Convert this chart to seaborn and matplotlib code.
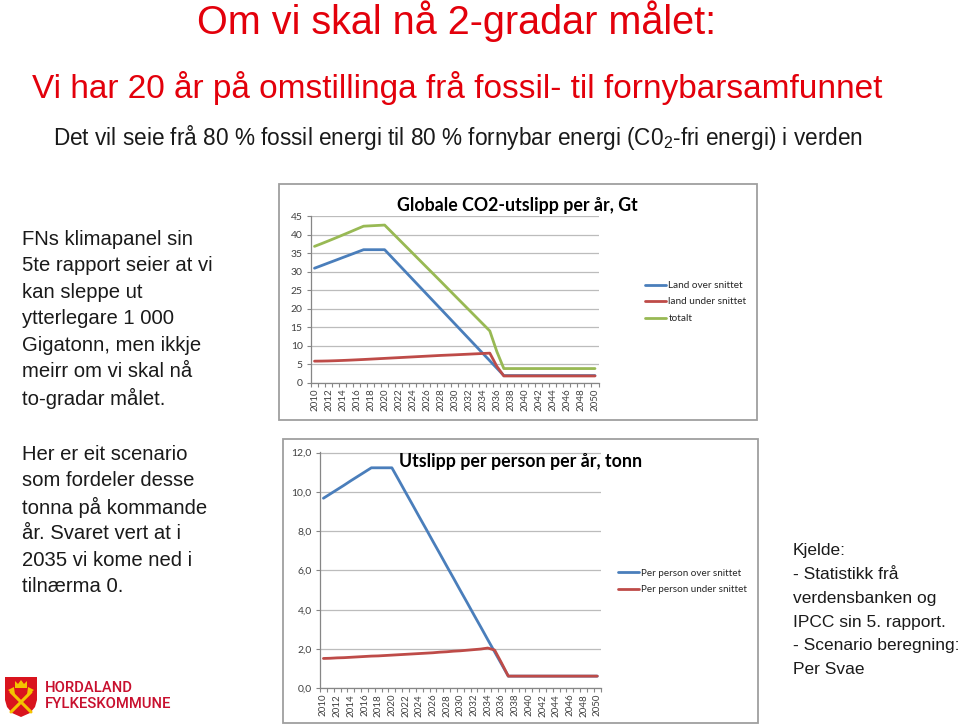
import numpy as np
import pandas as pd
import matplotlib
matplotlib.use("Agg")
import matplotlib.pyplot as plt
import seaborn as sns
from matplotlib.patches import Rectangle, Polygon
from matplotlib.ticker import FuncFormatter

# ---------------- data ----------------
years = list(range(2010, 2051))

co2_land_over = [31.0, 31.71, 32.43, 33.14, 33.86, 34.57, 35.29, 36.0, 36.0, 36.0, 36.0,
                 34.0, 32.0, 30.0, 28.0, 26.0, 24.0, 22.0, 20.0, 18.0, 16.0,
                 14.0, 12.0, 10.0, 8.0, 6.0, 4.0,
                 2.0, 2.0, 2.0, 2.0, 2.0, 2.0, 2.0, 2.0, 2.0, 2.0, 2.0, 2.0, 2.0, 2.0]
co2_land_under = [5.9, 5.92, 5.96, 6.02, 6.09, 6.17, 6.26, 6.35, 6.45, 6.55, 6.65, 6.75, 6.85,
                  6.95, 7.05, 7.15, 7.25, 7.35, 7.45, 7.53, 7.61, 7.7, 7.79, 7.88, 7.97, 8.06,
                  4.5,
                  1.9, 1.9, 1.9, 1.9, 1.9, 1.9, 1.9, 1.9, 1.9, 1.9, 1.9, 1.9, 1.9, 1.9]
co2_totalt = [36.9, 37.63, 38.39, 39.16, 39.95, 40.74, 41.55, 42.35, 42.45, 42.55, 42.65,
              40.75, 38.85, 36.95, 35.05, 33.15, 31.25, 29.35, 27.45, 25.53, 23.61,
              21.7, 19.79, 17.88, 15.97, 14.06, 8.5,
              3.9, 3.9, 3.9, 3.9, 3.9, 3.9, 3.9, 3.9, 3.9, 3.9, 3.9, 3.9, 3.9, 3.9]

pp_over = [9.68, 9.9, 10.12, 10.34, 10.57, 10.79, 11.01, 11.23, 11.23, 11.23, 11.23,
           10.61, 9.98, 9.36, 8.73, 8.11, 7.48, 6.86, 6.23, 5.61, 4.98,
           4.36, 3.73, 3.11, 2.48, 1.86, 1.24,
           0.62, 0.62, 0.62, 0.62, 0.62, 0.62, 0.62, 0.62, 0.62, 0.62, 0.62, 0.62, 0.62, 0.62]
pp_under = [1.52, 1.53, 1.55, 1.56, 1.58, 1.6, 1.62, 1.64, 1.65, 1.67, 1.69, 1.71, 1.73,
            1.75, 1.77, 1.79, 1.81, 1.84, 1.86, 1.89, 1.91, 1.94, 1.97, 2.0, 2.05,
            1.95, 1.3,
            0.62, 0.62, 0.62, 0.62, 0.62, 0.62, 0.62, 0.62, 0.62, 0.62, 0.62, 0.62, 0.62, 0.62]

top_labels = ["Land over snittet", "land under snittet", "totalt"]
bottom_labels = ["Per person over snittet", "Per person under snittet"]
top_title = "Globale CO2-utslipp per år, Gt"
bottom_title = "Utslipp per person per år, tonn"

df_top = pd.DataFrame({
    "år": years * 3,
    "verdi": co2_land_over + co2_land_under + co2_totalt,
    "serie": [top_labels[0]] * 41 + [top_labels[1]] * 41 + [top_labels[2]] * 41,
})
df_bot = pd.DataFrame({
    "år": years * 2,
    "verdi": pp_over + pp_under,
    "serie": [bottom_labels[0]] * 41 + [bottom_labels[1]] * 41,
})

BLUE, RED, GREEN = "#4a7ebb", "#be4b48", "#98b954"

# ---------------- figure ----------------
sns.set_theme(style="white")
plt.rcParams["font.family"] = ["Liberation Sans", "DejaVu Sans"]
plt.rcParams["mathtext.fontset"] = "custom"
plt.rcParams["mathtext.rm"] = "Liberation Sans"

W, H = 959, 725
fig = plt.figure(figsize=(W / 100, H / 100), dpi=100)
fig.patch.set_facecolor("white")

CHART_FONT = ["Lato", "DejaVu Sans"]
TICK_COL = "#404040"
AX_COL = "#868686"


def px_axes(x0, x1, y_top, y_bot):
    return fig.add_axes([x0 / W, 1 - y_bot / H, (x1 - x0) / W, (y_bot - y_top) / H])


def style(ax, ymax, ystep, fmt):
    ax.set_xlim(2009.5, 2050.5)
    ax.set_ylim(0, ymax)
    ax.set_yticks(np.arange(0, ymax + 0.001, ystep))
    ax.yaxis.set_major_formatter(FuncFormatter(fmt))
    ax.set_xticks(years[::2])
    ax.set_xticks(np.arange(2009.5, 2051, 1.0), minor=True)
    ax.tick_params(axis="x", which="major", length=0, labelrotation=90,
                   labelsize=7, pad=4, labelcolor=TICK_COL)
    ax.tick_params(axis="x", which="minor", length=3, width=0.8, color=AX_COL,
                   direction="out", bottom=True)
    ax.tick_params(axis="y", which="major", length=3, width=0.8, color=AX_COL,
                   direction="out", left=True, labelsize=7.5, pad=3, labelcolor=TICK_COL)
    for lab in ax.get_xticklabels() + ax.get_yticklabels():
        lab.set_family(CHART_FONT)
    ax.grid(axis="y", color="#bcbcbc", lw=0.9)
    ax.grid(axis="x", visible=False)
    ax.set_axisbelow(True)
    for s in ["top", "right"]:
        ax.spines[s].set_visible(False)
    for s in ["left", "bottom"]:
        ax.spines[s].set_color(AX_COL)
        ax.spines[s].set_linewidth(0.9)
    ax.set_xlabel("")
    ax.set_ylabel("")


# top chart
ax1 = px_axes(311, 598.5, 216, 383)
sns.lineplot(data=df_top, x="år", y="verdi", hue="serie", hue_order=top_labels,
             palette=[BLUE, RED, GREEN], linewidth=2.0, ax=ax1, legend=True)
style(ax1, 45, 5, lambda v, p: f"{v:.0f}")
ax1.set_ylim(0, 45.1)
h, l = ax1.get_legend_handles_labels()
ax1.legend(h, l, loc="center left", bbox_to_anchor=(645 / W, 1 - 302 / H),
           bbox_transform=fig.transFigure, frameon=False, borderpad=0,
           borderaxespad=0, handlelength=2.1, handletextpad=0.25, labelspacing=0.75,
           prop={"family": CHART_FONT, "size": 7.2})

# bottom chart
ax2 = px_axes(320, 600.7, 451.7, 688.3)
sns.lineplot(data=df_bot, x="år", y="verdi", hue="serie", hue_order=bottom_labels,
             palette=[BLUE, RED], linewidth=2.0, ax=ax2, legend=True)
style(ax2, 12, 2, lambda v, p: f"{v:.1f}".replace(".", ","))
ax2.set_ylim(0, 12.05)
h, l = ax2.get_legend_handles_labels()
ax2.legend(h, l, loc="center left", bbox_to_anchor=(618 / W, 1 - 581.5 / H),
           bbox_transform=fig.transFigure, frameon=False, borderpad=0,
           borderaxespad=0, handlelength=2.1, handletextpad=0.25, labelspacing=0.75,
           prop={"family": CHART_FONT, "size": 7.1})

# overlay in pixel coordinates for slide text & decoration
ov = fig.add_axes([0, 0, 1, 1], zorder=10)
ov.set_xlim(0, W)
ov.set_ylim(H, 0)
ov.axis("off")

# chart frames
ov.add_patch(Rectangle((279, 184), 478, 236, fill=False, ec="#9f9f9f", lw=1.3))
ov.add_patch(Rectangle((283, 439), 475, 284, fill=False, ec="#9f9f9f", lw=1.3))

# chart titles
ov.text(517, 205, top_title, ha="center", va="center", fontsize=12.8,
        fontweight="bold", family=CHART_FONT, color="black")
ov.text(521, 461, bottom_title, ha="center", va="center", fontsize=12.8,
        fontweight="bold", family=CHART_FONT, color="black")

SLIDE_RED = "#e3000b"
ov.text(457, 21, "Om vi skal nå 2-gradar målet:", ha="center", va="center",
        fontsize=28.5, color=SLIDE_RED)
ov.text(457, 88, "Vi har 20 år på omstillinga frå fossil- til fornybarsamfunnet",
        ha="center", va="center", fontsize=24, color=SLIDE_RED)
ov.text(458, 137,
        r"Det vil seie frå 80 % fossil energi til 80 % fornybar energi (C0$_{\mathregular{2}}$-fri energi) i verden",
        ha="center", va="center", fontsize=16.3, color="#1a1a1a")

left1 = ["FNs klimapanel sin", "5te rapport seier at vi", "kan sleppe ut",
         "ytterlegare 1 000", "Gigatonn, men ikkje", "meirr om vi skal nå",
         "to-gradar målet."]
for i, s in enumerate(left1):
    ov.text(22, 239 + i * 26.5, s, ha="left", va="center", fontsize=14.6, color="#1a1a1a")

left2 = ["Her er eit scenario", "som fordeler desse", "tonna på kommande",
         "år. Svaret vert at i", "2035 vi kome ned i", "tilnærma 0."]
for i, s in enumerate(left2):
    ov.text(22, 454 + i * 26.6, s, ha="left", va="center", fontsize=14.6, color="#1a1a1a")

right = ["Kjelde:", "- Statistikk frå", "verdensbanken og", "IPCC sin 5. rapport.",
         "- Scenario beregning:", "Per Svae"]
for i, s in enumerate(right):
    ov.text(793, 551 + i * 23.7, s, ha="left", va="center", fontsize=12.5, color="#1a1a1a")

# logo
shield = [(5, 677), (37, 677), (37, 700), (35, 707), (30, 713), (21, 717),
          (12, 713), (7, 707), (5, 700)]
ov.add_patch(Polygon(shield, closed=True, fc="#d9141e", ec="none"))
YEL = "#f4c400"
ov.plot([11, 31], [692, 712], color=YEL, lw=2.2, solid_capstyle="round")
ov.plot([31, 11], [692, 712], color=YEL, lw=2.2, solid_capstyle="round")
ov.add_patch(Polygon([(8, 690), (14, 687), (15, 695)], closed=True, fc=YEL, ec="none"))
ov.add_patch(Polygon([(34, 690), (28, 687), (27, 695)], closed=True, fc=YEL, ec="none"))
ov.add_patch(Polygon([(15, 688), (15, 681), (18, 684), (21, 680), (24, 684), (27, 681),
                      (27, 688)], closed=True, fc=YEL, ec="none"))
LOGO_RED = "#c8102e"
ov.text(45, 688, "HORDALAND", ha="left", va="center", fontsize=10.6, color=LOGO_RED,
        family=["Roboto", "DejaVu Sans"], fontweight="medium")
ov.text(45, 704, "FYLKESKOMMUNE", ha="left", va="center", fontsize=10.6, color=LOGO_RED,
        family=["Roboto", "DejaVu Sans"], fontweight="medium")

fig.savefig("out.png", dpi=100, facecolor="white")
